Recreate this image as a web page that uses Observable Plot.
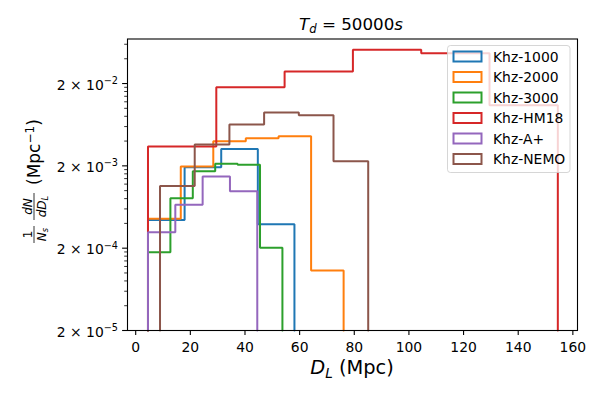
<!DOCTYPE html>
<html><head><meta charset="utf-8">
<script src="https://cdn.jsdelivr.net/npm/d3@7"></script>
<script src="https://cdn.jsdelivr.net/npm/@observablehq/plot@0.6"></script>
<style>body{margin:0;background:#fff;} svg{display:block;}</style>
</head><body><div id="chart"></div>
<script>
// ---- data ----
const seriesNames = ["Khz-1000", "Khz-2000", "Khz-3000", "Khz-HM18", "Khz-A+", "Khz-NEMO"];
const seriesColors = ["#1f77b4", "#ff7f0e", "#2ca02c", "#d62728", "#9467bd", "#8c564b"];

const edges1000 = [4.5, 17.9, 31.3, 44.7, 58.1];
const dens1000  = [4.4e-4, 1.92e-3, 3.2e-3, 3.9e-4];

const edges2000 = [4.5, 16.5, 28.4, 40.3, 52.3, 64.2, 76.1];
const dens2000  = [4.55e-4, 1.96e-3, 3.98e-3, 4.34e-3, 4.58e-3, 1.07e-4];

const edges3000 = [4.5, 12.7, 20.9, 29.1, 37.3, 45.5, 53.7];
const dens3000  = [1.79e-4, 8.1e-4, 1.72e-3, 2.12e-3, 2.06e-3, 2.02e-4];

const edgesHM18 = [4.5, 29.5, 54.5, 79.5, 104.5, 129.5, 154.5];
const densHM18  = [3.44e-3, 1.80e-2, 2.80e-2, 5.13e-2, 4.67e-2, 1.09e-2];

const edgesAplus = [4.5, 14.5, 24.5, 34.5, 44.5];
const densAplus  = [3.13e-4, 6.73e-4, 1.48e-3, 9.8e-4];

const edgesNEMO = [8.9, 21.6, 34.3, 47.0, 59.7, 72.4, 85.1];
const densNEMO  = [1.14e-3, 3.63e-3, 6.36e-3, 8.89e-3, 8.24e-3, 2.28e-3];

const xTicks = [0, 20, 40, 60, 80, 100, 120, 140, 160];
const yMajorTicks = [2e-5, 2e-4, 2e-3, 2e-2];
const yMajorExp = ["−5", "−4", "−3", "−2"];
const yMinorTicks = [4e-5, 6e-5, 8e-5, 1e-4, 1.2e-4, 1.4e-4, 1.6e-4, 1.8e-4,
                     4e-4, 6e-4, 8e-4, 1e-3, 1.2e-3, 1.4e-3, 1.6e-3, 1.8e-3,
                     4e-3, 6e-3, 8e-3, 1e-2, 1.2e-2, 1.4e-2, 1.6e-2, 1.8e-2,
                     4e-2, 6e-2];
const xDomain = [-3, 161.7];
const yDomain = [2e-5, 0.0695];

// ---- build step outlines (table for Plot) ----
const allEdges = [edges1000, edges2000, edges3000, edgesHM18, edgesAplus, edgesNEMO];
const allDens = [dens1000, dens2000, dens3000, densHM18, densAplus, densNEMO];
const points = [];
seriesNames.forEach((name, s) => {
  const e = allEdges[s], d = allDens[s];
  points.push({series: name, x: e[0], y: yDomain[0]});
  d.forEach((v, i) => {
    points.push({series: name, x: e[i], y: v});
    points.push({series: name, x: e[i + 1], y: v});
  });
  points.push({series: name, x: e[e.length - 1], y: yDomain[0]});
});

const FONT = "DejaVu Sans";
const chart = Plot.plot({
  width: 600, height: 400,
  marginLeft: 127, marginRight: 23, marginTop: 38.5, marginBottom: 70,
  style: {fontFamily: FONT, fontSize: "13.9px", background: "white", color: "black"},
  x: {domain: xDomain},
  y: {type: "log", domain: yDomain},
  color: {domain: seriesNames, range: seriesColors},
  marks: [
    Plot.line(points, {x: "x", y: "y", z: "series", stroke: "series", strokeWidth: 2, strokeLinejoin: "miter"}),
    Plot.axisX({ticks: xTicks, tickSize: 4.9, tickPadding: 7, tickFormat: d => String(d), label: null, strokeWidth: 1.1}),
    Plot.axisY({ticks: yMajorTicks, tickSize: 4.9, tickFormat: () => "", label: null, strokeWidth: 1.1}),
    Plot.axisY({ticks: yMinorTicks, tickSize: 2.8, tickFormat: () => "", label: null, strokeWidth: 0.8}),
    Plot.frame({stroke: "black", strokeWidth: 1.1})
  ]
});
document.getElementById("chart").appendChild(chart);

const svg = d3.select(chart);
const yS = chart.scale("y");

// y tick labels with superscripts
yMajorTicks.forEach((v, i) => {
  const t = svg.append("text")
    .attr("x", 118).attr("y", yS.apply(v) + 6.5)
    .attr("text-anchor", "end")
    .attr("font-family", FONT).attr("font-size", 13.9).attr("fill", "black");
  t.append("tspan").text("2 × 10");
  t.append("tspan").attr("dy", -5.5).attr("font-size", 9.7).text(yMajorExp[i]);
});

// title
{
  const t = svg.append("text").attr("x", 351).attr("y", 30).attr("text-anchor", "middle")
    .attr("font-family", FONT).attr("font-size", 16.7).attr("fill", "black");
  t.append("tspan").attr("font-style", "italic").text("T");
  t.append("tspan").attr("font-style", "italic").attr("font-size", 11.7).attr("dy", 3).text("d");
  t.append("tspan").attr("dy", -3).text(" = 50000");
  t.append("tspan").attr("font-style", "italic").text("s");
}

// x label
{
  const t = svg.append("text").attr("x", 352).attr("y", 374).attr("text-anchor", "middle")
    .attr("font-family", FONT).attr("font-size", 19.4).attr("fill", "black");
  t.append("tspan").attr("font-style", "italic").text("D");
  t.append("tspan").attr("font-style", "italic").attr("font-size", 13.6).attr("dy", 3.5).text("L");
  t.append("tspan").attr("dy", -3.5).text(" (Mpc)");
}

// y label (rotated)
{
  const g = svg.append("g").attr("transform", "translate(34,244) rotate(-90)")
    .attr("font-family", FONT).attr("fill", "black");
  // 1/N_s
  g.append("text").attr("x", 9.5).attr("y", -2.5).attr("text-anchor", "middle").attr("font-size", 12).text("1");
  g.append("line").attr("x1", 1).attr("x2", 18).attr("y1", 0).attr("y2", 0).attr("stroke", "black").attr("stroke-width", 0.8);
  const d1 = g.append("text").attr("x", 9.5).attr("y", 11.5).attr("text-anchor", "middle").attr("font-size", 12).attr("font-style", "italic");
  d1.append("tspan").text("N");
  d1.append("tspan").attr("font-size", 8.4).attr("dy", 2).text("s");
  // dN/dD_L
  g.append("text").attr("x", 37.5).attr("y", -2.5).attr("text-anchor", "middle").attr("font-size", 12).attr("font-style", "italic").text("dN");
  g.append("line").attr("x1", 24).attr("x2", 51).attr("y1", 0).attr("y2", 0).attr("stroke", "black").attr("stroke-width", 0.8);
  const d2 = g.append("text").attr("x", 37.5).attr("y", 11.5).attr("text-anchor", "middle").attr("font-size", 12).attr("font-style", "italic");
  d2.append("tspan").text("dD");
  d2.append("tspan").attr("font-size", 8.4).attr("dy", 2).text("L");
  // (Mpc^-1)
  const p = g.append("text").attr("x", 59).attr("y", 6).attr("font-size", 17).attr("text-anchor", "start");
  p.append("tspan").text("(Mpc");
  p.append("tspan").attr("font-size", 12).attr("dy", -6.5).text("−1");
  p.append("tspan").attr("dy", 6.5).text(")");
}

// legend
{
  const g = svg.append("g").attr("font-family", FONT).attr("font-size", 13.9).attr("text-anchor", "start");
  g.append("rect").attr("x", 447.5).attr("y", 45.5).attr("width", 122.5).attr("height", 127)
    .attr("rx", 3).attr("fill", "white").attr("fill-opacity", 0.8)
    .attr("stroke", "#cccccc").attr("stroke-opacity", 0.8).attr("stroke-width", 1);
  seriesNames.forEach((name, i) => {
    const cy = 56.5 + 20.5 * i;
    g.append("rect").attr("x", 453.5).attr("y", cy - 5).attr("width", 28).attr("height", 10)
      .attr("fill", "none").attr("stroke", seriesColors[i]).attr("stroke-width", 2);
    g.append("text").attr("x", 493).attr("y", cy + 5).attr("fill", "black").attr("text-anchor", "start").text(name);
  });
}
</script>
</body></html>
